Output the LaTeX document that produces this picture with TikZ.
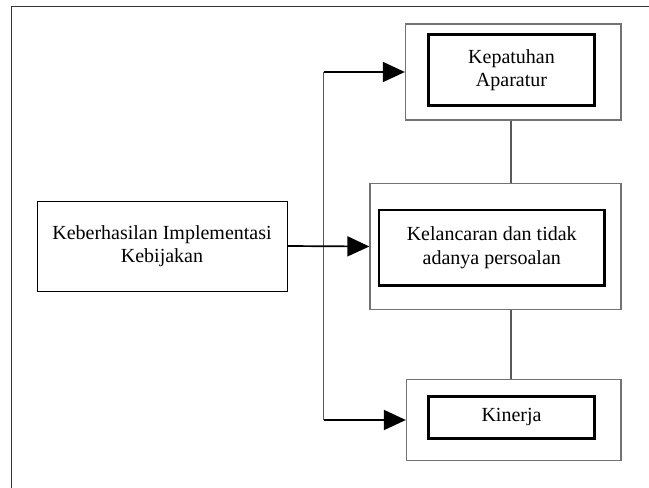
\documentclass[tikz,border=0pt]{standalone}
\usepackage{fontspec}
\setmainfont{Liberation Serif}
\usetikzlibrary{arrows.meta}
\begin{document}
\begin{tikzpicture}[x=1pt,y=-1pt,
  outerbox/.style={draw=black!55,line width=1.3pt,minimum width=#1,inner sep=0pt},
  innerbox/.style={draw=black,line width=2.6pt,align=center,inner sep=0pt,
     font=\fontsize{20}{23.5}\selectfont},
  plainbox/.style={draw=black,line width=1pt,align=center,inner sep=0pt,
     font=\fontsize{20}{23.5}\selectfont},
  arr/.style={-{Triangle[length=22pt,width=20pt]},line width=1.7pt},
  link/.style={draw=black!65,line width=1.4pt}]
\useasboundingbox (0,0) rectangle (649,488);
% frame
\coordinate (fbl) at (11.5,488);
\coordinate (ftl) at (11.5,6.5);
\coordinate (ftr) at (649,6.5);
\draw[black!80,line width=1pt] (fbl) -- (ftl) -- (ftr);
% left box
\node[plainbox,minimum width=250pt,minimum height=90pt] (left) at (162,246) {Keberhasilan Implementasi\\Kebijakan};
% outer boxes
\node[outerbox=215.5pt,minimum height=96pt] (topout) at (513.25,72) {};
\node[outerbox=251pt,minimum height=126pt] (midout) at (495.5,246.5) {};
\node[outerbox=214.5pt,minimum height=80.5pt] (botout) at (513.75,420) {};
% inner boxes
\node[innerbox,minimum width=166pt,minimum height=71pt] (topin) at (511.5,70) {Kepatuhan\\Aparatur};
\node[innerbox,minimum width=225.5pt,minimum height=75.5pt] (midin) at (491.75,247.75) {Kelancaran dan tidak\\adanya persoalan};
\node[innerbox,minimum width=166pt,minimum height=42pt] (botin) at (511.5,417.5) {Kinerja};
% connectors
\coordinate (trunktop) at (323.5,72);
\coordinate (trunkbot) at (323.5,420);
\draw[link] (trunktop) -- (trunkbot);
\draw[arr] (left.east) -- (midout.west);
\draw[arr] (trunktop) -- (topout.west);
\draw[arr] (trunkbot) -- (botout.west);
\draw[link] (topout.south -| 511,0) -- (midout.north -| 511,0);
\draw[link] (midout.south -| 511,0) -- (botout.north -| 511,0);
\end{tikzpicture}
\end{document}
